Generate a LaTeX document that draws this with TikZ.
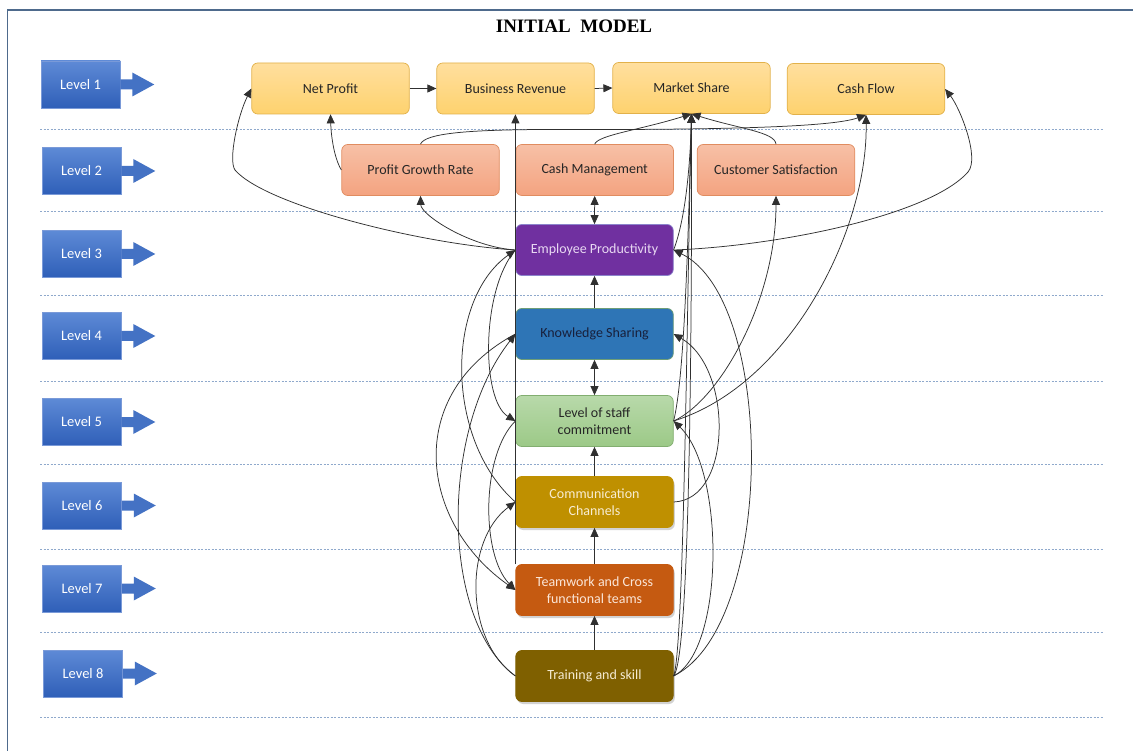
\documentclass[tikz,border=0pt]{standalone}
\usepackage{fontspec}
\setmainfont{Carlito}
\newfontfamily\titlefont{Liberation Serif}
\usetikzlibrary{arrows.meta,shadows,calc}
\definecolor{frameC}{HTML}{4E6A8C}
\definecolor{guideC}{HTML}{8FA9CC}
\definecolor{lineC}{HTML}{303030}
\definecolor{lvT}{HTML}{5E8AD6}
\definecolor{lvB}{HTML}{2F5FB8}
\definecolor{lvD}{HTML}{7A9AD8}
\definecolor{lvA}{HTML}{4472C4}
\definecolor{ylwT}{HTML}{FFDF9E}
\definecolor{ylwB}{HTML}{FED26E}
\definecolor{ylwD}{HTML}{E2B14A}
\definecolor{salT}{HTML}{F7C0A6}
\definecolor{salB}{HTML}{F4A380}
\definecolor{salD}{HTML}{E08C60}
\definecolor{epC}{HTML}{7030A0}
\definecolor{epD}{HTML}{8C84CC}
\definecolor{epT}{HTML}{E8D8F2}
\definecolor{ksC}{HTML}{2E75B6}
\definecolor{ksD}{HTML}{6E9E78}
\definecolor{ksT}{HTML}{18203C}
\definecolor{lscT}{HTML}{B8D9AA}
\definecolor{lscB}{HTML}{9CC987}
\definecolor{lscD}{HTML}{82AE70}
\definecolor{ccC}{HTML}{BF9000}
\definecolor{ccT}{HTML}{F8EDD2}
\definecolor{twC}{HTML}{C55A11}
\definecolor{twT}{HTML}{FBE6D8}
\definecolor{trC}{HTML}{7F6000}
\definecolor{trT}{HTML}{F5EBD2}
\tikzset{
  box/.style={rounded corners=6pt, minimum width=157.5pt, minimum height=51pt,
    inner sep=2pt, align=center, font=\fontsize{14}{17}\selectfont, line width=0.7pt},
  ylw/.style={box, draw=ylwD, top color=ylwT, bottom color=ylwB, text=black!85},
  sal/.style={box, draw=salD, top color=salT, bottom color=salB, text=black!85},
  epbox/.style={box, draw=epD, fill=epC, text=epT},
  ksbox/.style={box, draw=ksD, fill=ksC, text=ksT},
  lscbox/.style={box, draw=lscD, top color=lscT, bottom color=lscB, text=black!85},
  shd/.style={drop shadow={shadow xshift=1.5pt, shadow yshift=-2.5pt, opacity=0.35}},
  ccbox/.style={box, draw=ccC, fill=ccC, text=ccT, shd},
  twbox/.style={box, draw=twC, fill=twC, text=twT, shd},
  trbox/.style={box, draw=trC, fill=trC, text=trT, shd},
  lvl/.style={minimum width=79pt, minimum height=47pt, inner sep=0pt, draw=lvD, line width=0.5pt,
    top color=lvT, bottom color=lvB, text=white, font=\fontsize{14.5}{17}\selectfont},
  con/.style={draw=lineC, line width=0.75pt, -{Triangle[length=9pt,width=8pt]}},
  bicon/.style={draw=lineC, line width=0.75pt, {Triangle[length=9pt,width=8pt]}-{Triangle[length=9pt,width=8pt]}},
  guide/.style={draw=guideC, line width=0.9pt, dash pattern=on 2.2pt off 1.3pt},
}
\begin{document}
\begin{tikzpicture}[x=1pt,y=-1pt]
\useasboundingbox (0,0) rectangle (1133,751);
\fill[white] (0,0) rectangle (1133,751);
\draw[frameC, line width=1.2pt] (7.5,751) -- (7.5,10) -- (1133,10);
\node[font=\titlefont\bfseries\fontsize{19}{22}\selectfont] (title) at (574,26) {INITIAL\ \ MODEL};
\foreach \y in {129.5,211,295,381.5,464,549,632,717} \draw[guide] (40,\y) -- (1103,\y);
\foreach \i/\x/\y in {1/80.5/84.5, 2/81.5/171, 3/81.5/254, 4/81.5/336, 5/81.5/422, 6/82/505.5, 7/82/588.5, 8/83/673.5} {
  \node[lvl] (lv\i) at (\x,\y) {Level \i};
  \fill[lvA] ($(lv\i.east)+(0,-5)$) -- ++(12,0) -- ++(0,-7) -- ($(lv\i.east)+(34,0)$)
     -- ($(lv\i.east)+(12,12)$) -- ++(0,-7) -- ($(lv\i.east)+(0,5)$) -- cycle;
}
% nodes
\node[ylw] (np) at (330.5,88.5) {Net Profit};
\node[ylw] (br) at (515.5,88.5) {Business Revenue};
\node[ylw] (ms) at (691.5,88) {Market Share};
\node[ylw] (cf) at (866,89) {Cash Flow};
\node[sal] (pgr) at (420.5,170) {Profit Growth Rate};
\node[sal] (cm) at (594.7,170) {Cash Management};
\node[sal] (cs) at (776,170) {Customer Satisfaction};
\node[epbox] (ep) at (594.5,250) {Employee Productivity};
\node[ksbox] (ks) at (594.5,334) {Knowledge Sharing};
\node[lscbox] (lsc) at (594.5,421) {Level of staff\\commitment};
\node[ccbox] (cc) at (594.5,502) {Communication\\Channels};
\node[twbox] (tw) at (594.5,590) {Teamwork and Cross\\functional teams};
\node[trbox] (tr) at (594.5,676) {Training and skill};
% top row
\draw[con] (np.east) -- (br.west);
\draw[con] (br.east) -- (ms.west);
\draw[con] (pgr.west) .. controls (334,158) and (331,135) .. (np.south);
\draw[con] (pgr.north) .. controls (425,133) and (470,130) .. (540,129.5)
   .. controls (700,130) and (830,128) .. (cf.south);
\draw[con] (cm.north) .. controls (598,135) and (640,130) .. (ms.south);
\draw[con] (cs.north) .. controls (775,132) and (740,129) .. (ms.south);
% vertical
\draw[bicon] (cm.south) -- (ep.north);
\draw[con] (ks.north) -- (ep.south);
\draw[bicon] (ks.south) -- (lsc.north);
\draw[con] (cc.north) -- (lsc.south);
\draw[con] (tw.north) -- (cc.south);
\draw[con] (tr.north) -- (tw.south);
\draw[con] (tw.north west) -- (tw.north west |- br.south);
% left of EP
\draw[con] (ep.west) .. controls (420,244) and (265,205) .. (235,170)
   .. controls (228,160) and (238,115) .. (np.west);
\draw[con] (ep.west) .. controls (470,247) and (421,215) .. (pgr.south);
% right of EP
\draw[con] (ep.east) .. controls (780,246) and (930,215) .. (968,172)
   .. controls (980,158) and (960,108) .. (cf.east);
\draw[con] (ep.east) .. controls (685,220) and (690,170) .. (ms.south);
\draw[con] (lsc.east) .. controls (684,380) and (688,250) .. (ms.south);
\draw[con] (tr.east) .. controls (688,660) and (692,400) .. (ms.south);
\draw[con] (tr.east) .. controls (684,650) and (687,300) .. (ms.south);
\draw[con] (tr.east) .. controls (776,625) and (776,300) .. (ep.east);
\draw[con] (tr.east) .. controls (725,650) and (725,470) .. (lsc.east);
\draw[con] (cc.east) .. controls (733,500) and (733,368) .. (ks.east);
\draw[con] (lsc.east) .. controls (720,400) and (776,300) .. (cs.south);
\draw[con] (lsc.east) .. controls (790,385) and (868,230) .. (cf.south);
% left arcs
\draw[con] (cc.west) .. controls (445,440) and (445,300) .. (ep.west);
\draw[con] (ep.west) .. controls (481,290) and (481,400) .. (lsc.west);
\draw[con] (ks.west) .. controls (402,395) and (420,523) .. (tw.west);
\draw[con] (tr.west) .. controls (440,620) and (440,430) .. (ks.west);
\draw[con] (lsc.west) .. controls (481,455) and (481,555) .. (tw.west);
\draw[con] (tr.west) .. controls (464,640) and (464,540) .. (cc.west);
\end{tikzpicture}
\end{document}
